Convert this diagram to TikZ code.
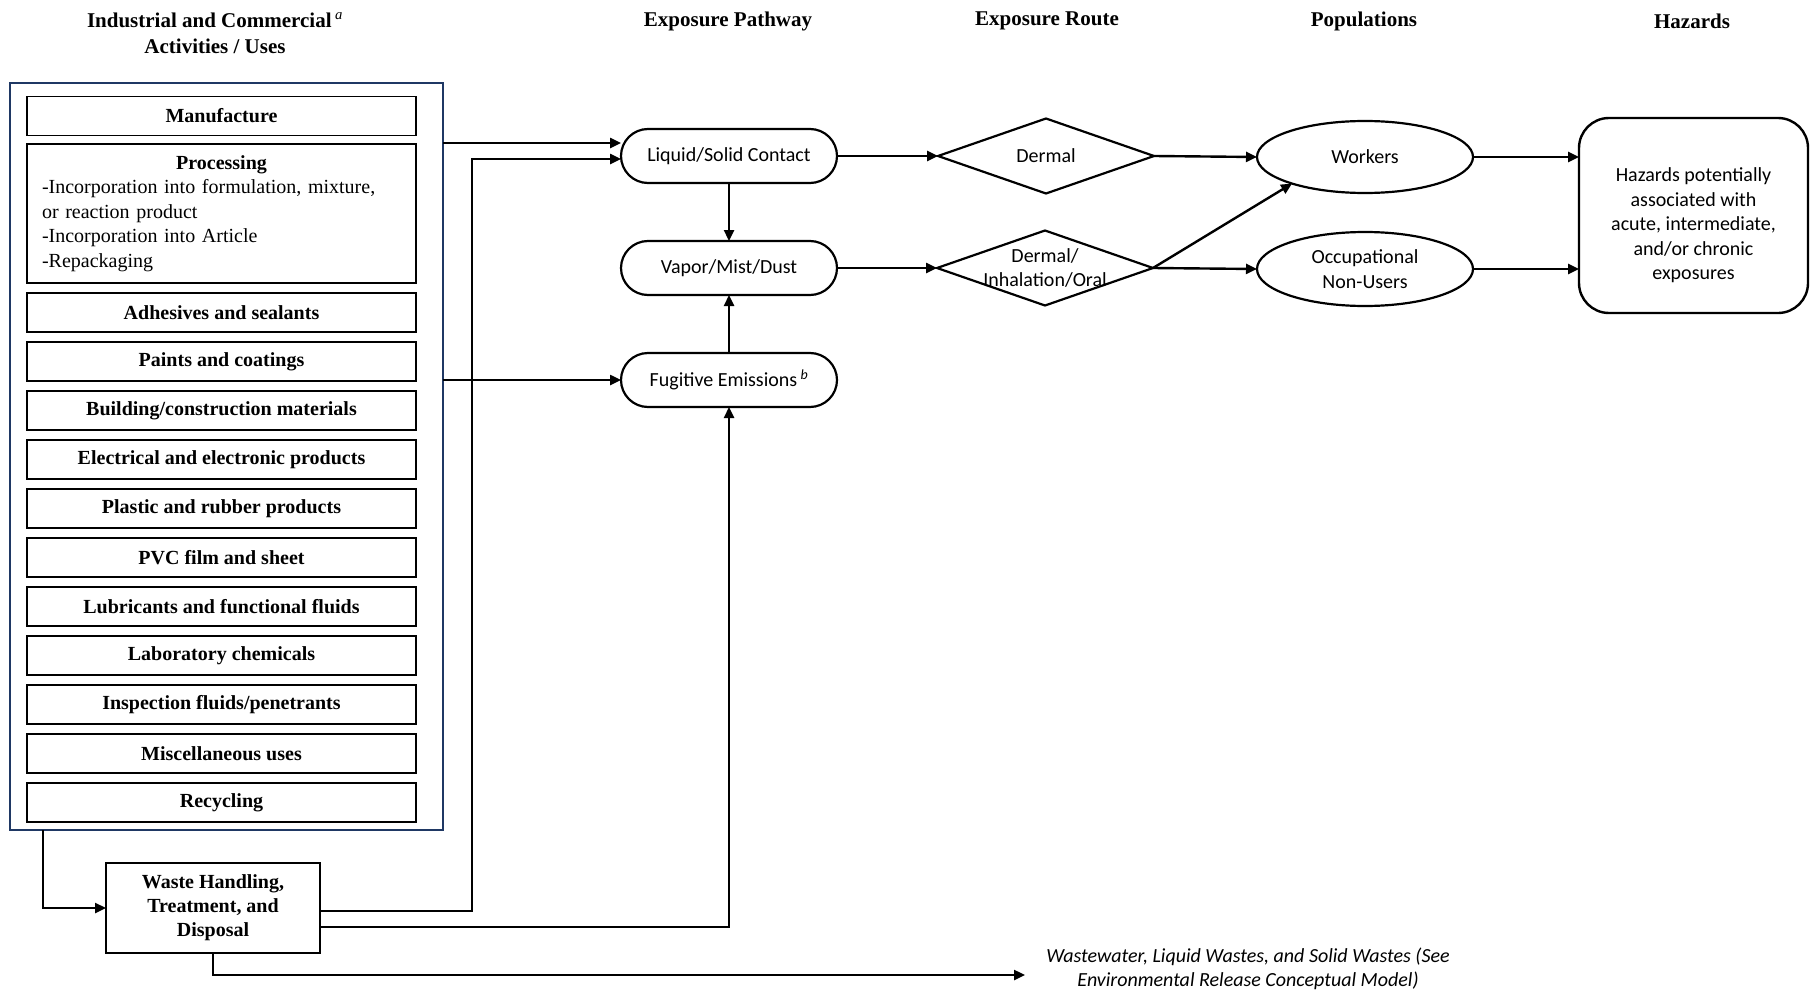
\documentclass[tikz,border=0pt]{standalone}
\usepackage{fontspec}
\setmainfont{Liberation Serif}
\newfontfamily\calibri{Carlito}
\usetikzlibrary{arrows.meta,shapes.geometric,calc}
\definecolor{navy}{RGB}{31,56,100}
\begin{document}
\begin{tikzpicture}[x=1pt,y=1pt,
  every node/.style={inner sep=0pt, outer sep=0pt},
  conn/.style={line width=2.4pt, -{Triangle[length=11pt,width=10pt]}},
  usebox/.style={draw, line width=1.8pt, minimum width=389pt, minimum height=39pt, font=\fontsize{20}{24}\selectfont\bfseries},
  pill/.style={draw, line width=2.2pt, rounded corners=27pt, minimum width=216pt, minimum height=54pt, font=\calibri\fontsize{20}{24}\selectfont},
  dia/.style={draw, diamond, line width=2.2pt, minimum width=216pt, minimum height=75pt},
  pop/.style={draw, ellipse, line width=2.2pt, minimum width=216pt, minimum height=72pt, align=center, font=\calibri\fontsize{20}{24.5}\selectfont},
  hdr/.style={font=\fontsize{21}{26}\selectfont\bfseries, align=center},
  ctext/.style={font=\calibri\fontsize{20}{24.5}\selectfont, align=center},
]
\useasboundingbox (0,0) rectangle (1810,-990);

% headers
\node[hdr] (h1) at (215,-33) {Industrial and Commercial\,\textsuperscript{\normalfont\itshape a}\\Activities / Uses};
\node[hdr] (h2) at (728,-21) {Exposure Pathway};
\node[hdr] (h3) at (1047,-21) {Exposure Route};
\node[hdr] (h4) at (1364,-21) {Populations};
\node[hdr] (h5) at (1692,-21) {Hazards};

% outer box
\node[draw=navy, line width=2.6pt, minimum width=433pt, minimum height=747pt] (outer) at (226.5,-456.5) {};

% inner boxes
\node[usebox] (manu) at (221.5,-116) {Manufacture};
\node[usebox, minimum height=139pt, text width=359pt, align=left, font=\fontsize{20}{24.5}\selectfont] (proc) at (221.5,-213.5)
  {\makebox[359pt]{\bfseries Processing}\\-Incorporation into formulation, mixture,\\or reaction product\\-Incorporation into Article\\-Repackaging};
\node[usebox] (b1) at (221.5,-312.5) {Adhesives and sealants};
\node[usebox] (b2) at (221.5,-361.5) {Paints and coatings};
\node[usebox] (b3) at (221.5,-410.5) {Building/construction materials};
\node[usebox] (b4) at (221.5,-459.5) {Electrical and electronic products};
\node[usebox] (b5) at (221.5,-508.5) {Plastic and rubber products};
\node[usebox] (b6) at (221.5,-557.5) {PVC film and sheet};
\node[usebox] (b7) at (221.5,-606.5) {Lubricants and functional fluids};
\node[usebox] (b8) at (221.5,-655.5) {Laboratory chemicals};
\node[usebox] (b9) at (221.5,-704.5) {Inspection fluids/penetrants};
\node[usebox] (b10) at (221.5,-753.5) {Miscellaneous uses};
\node[usebox] (b11) at (221.5,-802.5) {Recycling};

% waste box
\node[draw, line width=2.4pt, minimum width=214pt, minimum height=90pt, align=center, font=\fontsize{20}{24}\selectfont\bfseries] (waste) at (213,-908) {Waste Handling,\\Treatment, and\\Disposal};

% pathway
\node[pill] (liquid) at (729,-156) {Liquid/Solid Contact};
\node[pill] (vapor) at (729,-268) {Vapor/Mist/Dust};
\node[pill] (fug) at (729,-380) {Fugitive Emissions\,\textsuperscript{\itshape b}};

% routes
\node[dia, label={[ctext]center:Dermal}] (dermal) at (1046,-156) {};
\node[dia, label={[ctext]center:Dermal/\\Inhalation/Oral}] (dio) at (1045,-268) {};

% populations
\node[pop] (workers) at (1365,-157) {Workers};
\node[pop, minimum height=74pt] (occ) at (1365,-269) {Occupational\\Non-Users};

% hazards
\node[draw, line width=2.4pt, rounded corners=30pt, minimum width=229pt, minimum height=195pt,
  label={[ctext, yshift=-10pt]center:Hazards potentially\\associated with\\acute, intermediate,\\and/or chronic\\exposures}] (haz) at (1693.5,-215.5) {};

% waste text
\node[ctext, font=\calibri\itshape\fontsize{20}{24}\selectfont] (ww) at (1248,-969) {Wastewater, Liquid Wastes, and Solid Wastes (See\\Environmental Release Conceptual Model)};

% connectors
\coordinate (l1) at ([yshift=13pt]liquid.west);
\coordinate (l2) at ([yshift=-3pt]liquid.west);
\coordinate (wx) at (472,-911);
\coordinate (fx) at (729,-927);
\coordinate (ob) at (43,-909);
\coordinate (wend) at (1025,-975);

\draw[conn] (outer.east |- l1) -- (l1);
\draw[conn] (outer.east |- fug.west) -- (fug.west);
\draw[conn] (waste.east |- wx) -- (wx) -- (wx |- l2) -- (l2);
\draw[conn] (waste.east |- fx) -- (fx) -- (fug.south);
\draw[conn] (outer.south -| ob) |- (waste.west);
\draw[conn] (waste.south) |- (wend);

\draw[conn] (liquid.south) -- (vapor.north);
\draw[conn] (fug.north) -- (vapor.south);
\draw[conn] (liquid.east) -- (dermal.west);
\draw[conn] (vapor.east) -- (dio.west);
\draw[conn] (dermal.east) -- (workers.west);
\draw[conn] (dio.east) -- (occ.west);
\draw[conn] (dio.east) -- (workers.200);
\draw[conn] (workers.east) -- (haz.west |- workers.east);
\draw[conn] (occ.east) -- (haz.west |- occ.east);
\end{tikzpicture}
\end{document}
